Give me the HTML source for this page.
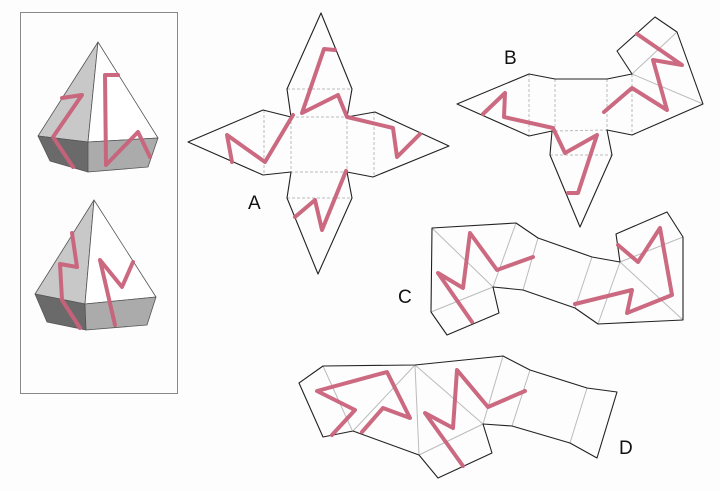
<!DOCTYPE html>
<html><head><meta charset="utf-8"><style>
html,body{margin:0;padding:0;background:#fdfdfd;}
svg{display:block;}
text{font-family:"Liberation Sans",sans-serif;font-size:19px;fill:#111;}
</style></head><body>
<svg width="720" height="491" viewBox="0 0 720 491" xmlns="http://www.w3.org/2000/svg">
<rect x="0" y="0" width="720" height="491" fill="#fdfdfd"/>
<rect x="20.5" y="12.5" width="157" height="381" fill="none" stroke="#888" stroke-width="1"/>
<!-- pyramid 1 -->
<g stroke="#555" stroke-width="0.8" stroke-linejoin="round">
<polygon points="98,42 38,136 88,142" fill="#c8c8c8"/>
<polygon points="98,42 88,142 158,138" fill="#ffffff"/>
<polygon points="38,136 88,142 88,172 50,161" fill="#6a6a6a"/>
<polygon points="88,142 158,138 148,167 88,172" fill="#ababab"/>
</g>
<g fill="none" stroke="#c9627a" stroke-width="4" stroke-linejoin="round" stroke-linecap="round" opacity="0.95">
<polyline points="62,98 82,95 53,137 73,167"/>
<polyline points="118,75 105,75 106,165 138,132 150,157"/>
</g>
<!-- pyramid 2 -->
<g stroke="#555" stroke-width="0.8" stroke-linejoin="round">
<polygon points="94,200 35,294 85,304" fill="#c8c8c8"/>
<polygon points="94,200 85,304 156,297" fill="#ffffff"/>
<polygon points="35,294 85,304 86,330 47,322" fill="#6a6a6a"/>
<polygon points="85,304 156,297 147,325 86,330" fill="#ababab"/>
</g>
<g fill="none" stroke="#c9627a" stroke-width="4" stroke-linejoin="round" stroke-linecap="round" opacity="0.95">
<polyline points="72,233 77,267 60,264 62,300 80,328"/>
<polyline points="115,325 100,260 122,287 133,262"/>
</g>

<!-- Net A -->
<g fill="none" stroke="#bbb" stroke-width="1" stroke-dasharray="3,2">
<rect x="291" y="117" width="56" height="55"/>
<line x1="287" y1="89" x2="352" y2="89"/>
<line x1="287" y1="198" x2="352" y2="198"/>
<line x1="264" y1="110" x2="264" y2="175"/>
<line x1="374" y1="112" x2="374" y2="177"/>
</g>
<g fill="none" stroke="#222" stroke-width="1.1" stroke-linejoin="round">
<polygon points="321,13 352,89 347,117 375,112 449,146 373,177 347,172 352,198 318,274 287,198 291,172 263,175 188,142 263,110 291,117 287,89"/>
</g>
<g fill="none" stroke="#c9627a" stroke-width="4" stroke-linejoin="round" stroke-linecap="round" opacity="0.95">
<polyline points="335,50 324,49 302,113 338,95 347,117 393,128 397,157 420,134"/>
<polyline points="293,115 265,162 227,135 232,162"/>
<polyline points="346,171 322,230 315,200 295,217"/>
</g>
<text x="248" y="209">A</text>

<!-- Net B -->
<g fill="none" stroke="#bbb" stroke-width="1">
<line x1="529" y1="74" x2="529" y2="136" stroke-dasharray="3,2"/>
<line x1="555" y1="79" x2="555" y2="131" stroke-dasharray="3,2"/>
<line x1="607" y1="79" x2="607" y2="130" stroke-dasharray="3,2"/>
<line x1="632" y1="74" x2="632" y2="135" stroke-dasharray="3,2"/>
<line x1="555" y1="131" x2="607" y2="130" stroke-dasharray="3,2"/>
<line x1="550" y1="155" x2="612" y2="155" stroke-dasharray="3,2"/>
<line x1="632" y1="74" x2="677" y2="32"/>
<line x1="632" y1="74" x2="703" y2="104"/>
</g>
<g fill="none" stroke="#222" stroke-width="1.1" stroke-linejoin="round">
<polygon points="555,79 607,79 632,74 617,51 655,17 677,32 703,104 632,135 607,130 612,155 580,227 550,155 552,131 529,136 457,104 529,74"/>
</g>
<g fill="none" stroke="#c9627a" stroke-width="4" stroke-linejoin="round" stroke-linecap="round" opacity="0.95">
<polyline points="483,114 505,93 504,117 553,128 565,153 597,135 578,193 568,193"/>
<polyline points="604,112 632,88 667,110 653,60 682,65 637,34"/>
</g>
<text x="504" y="64">B</text>

<!-- Net C -->
<g fill="none" stroke="#bbb" stroke-width="1">
<line x1="432" y1="228" x2="493" y2="287"/>
<line x1="431" y1="312" x2="493" y2="287"/>
<line x1="516" y1="223" x2="493" y2="287"/>
<line x1="538" y1="238" x2="523" y2="290"/>
<line x1="592" y1="257" x2="575" y2="308"/>
<line x1="620" y1="262" x2="598" y2="324"/>
<line x1="620" y1="262" x2="683" y2="237"/>
<line x1="620" y1="262" x2="683" y2="320"/>
</g>
<g fill="none" stroke="#222" stroke-width="1.1" stroke-linejoin="round">
<polygon points="432,228 516,223 538,238 592,257 620,262 616,234 667,212 683,237 683,320 598,324 575,308 523,290 493,287 499,313 447,335 431,312"/>
</g>
<g fill="none" stroke="#c9627a" stroke-width="4" stroke-linejoin="round" stroke-linecap="round" opacity="0.95">
<polyline points="472,322 438,273 463,288 470,233 497,270 533,257"/>
<polyline points="575,304 632,290 627,313 672,295 660,228 638,262 618,245"/>
</g>
<text x="398" y="303">C</text>

<!-- Net D -->
<g fill="none" stroke="#bbb" stroke-width="1">
<line x1="323" y1="366" x2="352" y2="430"/>
<line x1="415" y1="365" x2="353" y2="431"/>
<line x1="415" y1="365" x2="419" y2="455"/>
<line x1="415" y1="365" x2="483" y2="424"/>
<line x1="419" y1="455" x2="483" y2="424"/>
<line x1="503" y1="356" x2="483" y2="424"/>
<line x1="530" y1="370" x2="512" y2="426"/>
<line x1="587" y1="388" x2="570" y2="443"/>
</g>
<g fill="none" stroke="#222" stroke-width="1.1" stroke-linejoin="round">
<polygon points="323,366 415,365 503,356 530,370 587,388 617,392 597,458 570,443 512,426 483,424 492,453 438,478 419,455 353,431 323,437 299,383"/>
</g>
<g fill="none" stroke="#c9627a" stroke-width="4" stroke-linejoin="round" stroke-linecap="round" opacity="0.95">
<polyline points="332,435 355,410 317,391 387,372 410,418 383,408 362,432"/>
<polyline points="463,466 425,413 453,428 457,370 488,407 525,391"/>
</g>
<text x="619" y="454">D</text>
</svg>
</body></html>
